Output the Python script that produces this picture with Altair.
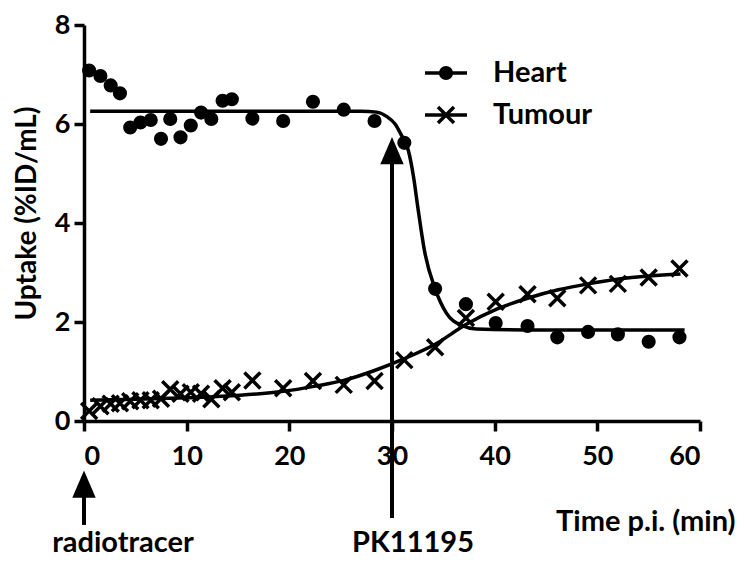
import altair as alt
import pandas as pd

# ---- data ----
time_min = [0.5, 1.6, 2.6, 3.5, 4.5, 5.5, 6.5, 7.5, 8.4, 9.4, 10.4, 11.4, 12.4, 13.5, 14.4,
            16.4, 19.4, 22.3, 25.3, 28.3, 31.2, 34.2, 37.2, 40.1, 43.2, 46.1, 49.1, 52.0, 55.0, 58.0]
heart = [7.08, 6.97, 6.78, 6.62, 5.93, 6.03, 6.08, 5.70, 6.10, 5.73, 5.97, 6.23, 6.10, 6.47, 6.50,
         6.11, 6.06, 6.45, 6.29, 6.06, 5.62, 2.67, 2.36, 1.98, 1.92, 1.69, 1.80, 1.75, 1.60, 1.69]
tumour = [0.20, 0.30, 0.35, 0.36, 0.40, 0.42, 0.42, 0.45, 0.64, 0.55, 0.58, 0.55, 0.44, 0.66, 0.58,
          0.82, 0.66, 0.81, 0.73, 0.81, 1.23, 1.49, 2.08, 2.41, 2.56, 2.48, 2.74, 2.77, 2.90, 3.08]

heart_fit_t = [0.6, 10, 20, 27, 28.5, 29.5, 30.3, 30.9, 31.6, 32.1, 32.5, 33.2, 34.2, 35.3, 36.8, 38.2, 45, 58.5]
heart_fit_y = [6.26, 6.26, 6.26, 6.26, 6.24, 6.15, 6.0, 5.78, 5.46, 4.93, 4.34, 3.4, 2.67, 2.18, 1.93, 1.86, 1.84, 1.84]
tumour_fit_t = [0.6, 5, 10, 15.2, 19.4, 22.4, 25.3, 28.3, 31.2, 34.2, 37.2, 40.2, 43.2, 46.2, 49.1, 52.1, 55.1, 58.1]
tumour_fit_y = [0.42, 0.44, 0.47, 0.52, 0.60, 0.70, 0.82, 1.02, 1.26, 1.55, 1.95, 2.26, 2.48, 2.65, 2.77, 2.87, 2.93, 2.97]

series = ["Heart", "Tumour"]
event_t = [0, 30]
event_label = ["radiotracer", "PK11195"]

x_ticks = [0, 10, 20, 30, 40, 50, 60]
y_ticks = [0, 2, 4, 6, 8]

FONT = "Lato"
X_PATH = "M-1,-1L1,1M-1,1L1,-1"
TRI_PATH = "M0,-1.1L0.9,1L-0.9,1Z"

pts = pd.DataFrame({"t": time_min, "heart": heart, "tumour": tumour})
hfit = pd.DataFrame({"t": heart_fit_t, "y": heart_fit_y})
tfit = pd.DataFrame({"t": tumour_fit_t, "y": tumour_fit_y})
ev = pd.DataFrame({"t": event_t, "label": event_label})

xscale = alt.Scale(domain=[0, 60], nice=False, zero=False)
yscale = alt.Scale(domain=[0, 8], nice=False)

xaxis = alt.Axis(values=x_ticks, title="Time p.i. (min)", titleX=651, titleY=109,
                 titleAlign="right", titleBaseline="alphabetic", titleFontSize=29,
                 labelPadding=12, format="d")
yaxis = alt.Axis(values=y_ticks, title="Uptake (%ID/mL)", titleX=-57, titleY=188,
                 titleAlign="center", titleBaseline="middle", titleAngle=-90,
                 titleFontSize=28, labelPadding=4, format="d")

base_x = alt.X("t:Q", scale=xscale, axis=xaxis)

heart_line = alt.Chart(hfit).mark_line(color="black", strokeWidth=3.5, interpolate="monotone").encode(
    x=base_x, y=alt.Y("y:Q", scale=yscale, axis=yaxis))
tumour_line = alt.Chart(tfit).mark_line(color="black", strokeWidth=3.5, interpolate="monotone").encode(
    x="t:Q", y="y:Q")
heart_pts = alt.Chart(pts).mark_point(shape="circle", filled=True, color="black", size=200, opacity=1).encode(
    x="t:Q", y=alt.Y("heart:Q"))
tumour_pts = alt.Chart(pts).mark_point(shape=X_PATH, filled=False, color="black", size=256,
                                       strokeWidth=3.5, opacity=1).encode(
    x="t:Q", y=alt.Y("tumour:Q"))

# arrows for events
ev_rad = ev[ev["label"] == "radiotracer"]
ev_pk = ev[ev["label"] == "PK11195"]
rad_rule = alt.Chart(ev_rad).mark_rule(color="black", strokeWidth=4).encode(
    x="t:Q", y=alt.datum(-1.29), y2=alt.datum(-2.10))
rad_head = alt.Chart(ev_rad).mark_point(shape=TRI_PATH, filled=True, color="black", size=676, opacity=1).encode(
    x="t:Q", y=alt.datum(-1.29))
pk_rule = alt.Chart(ev_pk).mark_rule(color="black", strokeWidth=4).encode(
    x="t:Q", y=alt.datum(5.45), y2=alt.datum(-1.96))
pk_head = alt.Chart(ev_pk).mark_point(shape=TRI_PATH, filled=True, color="black", size=676, opacity=1).encode(
    x="t:Q", y=alt.datum(5.45))
rad_text = alt.Chart(ev_rad).mark_text(font=FONT, fontWeight="bold", fontSize=29, color="black",
                                       align="center", baseline="alphabetic", dx=39).encode(
    x="t:Q", y=alt.datum(-2.65), text="label:N")
pk_text = alt.Chart(ev_pk).mark_text(font=FONT, fontWeight="bold", fontSize=29, color="black",
                                     align="center", baseline="alphabetic", dx=21).encode(
    x="t:Q", y=alt.datum(-2.65), text="label:N")

# manual legend
leg = pd.DataFrame({"series": series})
legend_layers = []
for i, (name, shape, filled) in enumerate([("Heart", "circle", True), ("Tumour", X_PATH, False)]):
    d = leg[leg["series"] == name]
    ypix = 48 + 42 * i
    legend_layers.append(alt.Chart(d).mark_rule(color="black", strokeWidth=3.5).encode(
        x=alt.value(341), x2=alt.value(383), y=alt.value(ypix)))
    if filled:
        legend_layers.append(alt.Chart(d).mark_point(shape=shape, filled=True, color="black",
                                                     size=200, opacity=1).encode(
            x=alt.value(362), y=alt.value(ypix)))
    else:
        legend_layers.append(alt.Chart(d).mark_point(shape=shape, filled=False, color="black",
                                                     size=256, strokeWidth=3.5, opacity=1).encode(
            x=alt.value(362), y=alt.value(ypix)))
    legend_layers.append(alt.Chart(d).mark_text(font=FONT, fontWeight="bold", fontSize=29, color="black",
                                                align="left", baseline="middle").encode(
        x=alt.value(409), y=alt.value(ypix), text="series:N"))

chart = alt.layer(
    heart_line, tumour_line, heart_pts, tumour_pts,
    rad_rule, rad_head, pk_rule, pk_head, rad_text, pk_text,
    *legend_layers
).properties(
    width=616, height=396,
    autosize=alt.AutoSizeParams(type="none"),
    padding={"left": 76, "top": 17, "right": 36, "bottom": 138},
).configure_view(stroke=None).configure_axis(
    grid=False, domainColor="black", domainWidth=3.5, tickColor="black", tickWidth=3.5,
    tickSize=10, labelFont=FONT, labelFontWeight="bold", labelFontSize=27, labelColor="black",
    titleFont=FONT, titleFontWeight="bold", titleColor="black",
)

chart.save("out.html", embed_options={"renderer": "svg", "actions": False})
